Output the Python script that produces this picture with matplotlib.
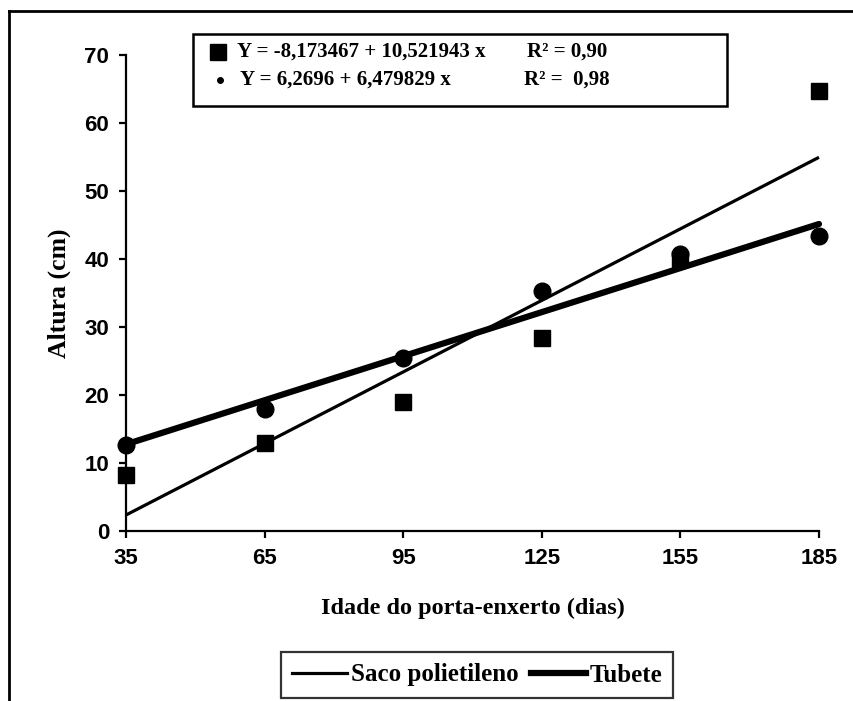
import matplotlib
matplotlib.use("Agg")
import matplotlib.pyplot as plt
from matplotlib.lines import Line2D
from matplotlib.patches import Rectangle
import numpy as np

# idade do porta-enxerto (dias)
dias = [35, 65, 95, 125, 155, 185]
# altura (cm) observada
saco = [8.3, 13.0, 18.9, 28.4, 40.0, 64.7]
tubete = [12.7, 17.9, 25.4, 35.3, 40.7, 43.4]

# coeficientes das regressoes (x = ordem da avaliacao 1..6)
coef_saco = (-8.173467, 10.521943)
coef_tubete = (6.2696, 6.479829)

serif = "Liberation Serif"
sans = "Liberation Sans"

fig = plt.figure(figsize=(8.54, 7.01), dpi=100)
ax = fig.add_axes([0.1475, 0.2425, 0.959 - 0.1475, 0.9215 - 0.2425])

ordem = np.arange(1, len(dias) + 1)
fit_saco = coef_saco[0] + coef_saco[1] * ordem
fit_tubete = coef_tubete[0] + coef_tubete[1] * ordem

ax.plot(dias, fit_saco, color="black", lw=2.3, solid_capstyle="butt", clip_on=False)
ax.plot(dias, fit_tubete, color="black", lw=4.5, solid_capstyle="round", clip_on=False)
ax.plot(dias, saco, "s", color="black", ms=11.5, clip_on=False, zorder=5)
ax.plot(dias, tubete, "o", color="black", ms=12, clip_on=False, zorder=5)

ax.set_xlim(35, 185)
ax.set_ylim(0, 70)
ax.set_xticks(dias)
ax.set_yticks(range(0, 71, 10))
for s in ["top", "right"]:
    ax.spines[s].set_visible(False)
for s in ["left", "bottom"]:
    ax.spines[s].set_linewidth(1.6)
ax.tick_params(direction="out", length=5, width=1.6, pad=7)
for lab in ax.get_xticklabels() + ax.get_yticklabels():
    lab.set_fontfamily(sans)
    lab.set_fontweight("bold")
    lab.set_fontsize(16)

ax.set_xlabel("Idade do porta-enxerto (dias)", fontfamily=serif, fontsize=17.5,
              fontweight="bold", labelpad=21)
ax.set_ylabel("Altura (cm)", fontfamily=serif, fontsize=18.5, fontweight="bold",
              labelpad=10)

# caixa com as equacoes
fig.add_artist(Rectangle((0.226, 0.849), 0.625, 0.1025, transform=fig.transFigure,
                         fill=False, lw=1.8, ec="black"))
fig.add_artist(Line2D([0.255], [1 - 52 / 701], marker="s", ms=11, color="black",
                      transform=fig.transFigure))
fig.add_artist(Line2D([0.258], [1 - 80 / 701], marker="o", ms=4, color="black",
                      transform=fig.transFigure))
eq = dict(fontfamily=serif, fontsize=15, fontweight="bold", va="center")
fig.text(237 / 854, 1 - 52 / 701, "Y = -8,173467 + 10,521943 x", **eq)
fig.text(527 / 854, 1 - 52 / 701, "R² = 0,90", **eq)
fig.text(240 / 854, 1 - 80 / 701, "Y = 6,2696 + 6,479829 x", **eq)
fig.text(524 / 854, 1 - 80 / 701, "R² =  0,98", **eq)

# legenda das linhas
handles = [Line2D([], [], color="black", lw=2.3),
           Line2D([], [], color="black", lw=4.5)]
leg = fig.legend(handles, ["Saco polietileno", "Tubete"], loc="center",
                 bbox_to_anchor=(477 / 854, 1 - 675 / 701), ncol=2, frameon=True,
                 fancybox=False, edgecolor="black", handlelength=2.2,
                 handletextpad=0.15, columnspacing=0.5, borderpad=0.45,
                 borderaxespad=0, prop={"family": serif, "size": 18, "weight": "bold"})
leg.get_frame().set_linewidth(1.6)

# moldura externa
fig.add_artist(Line2D([9 / 854, 9 / 854], [0, 1 - 11 / 701], color="black", lw=2,
                      transform=fig.transFigure))
fig.add_artist(Line2D([9 / 854, 1], [1 - 11 / 701, 1 - 11 / 701], color="black", lw=2,
                      transform=fig.transFigure))

fig.savefig("out.png", dpi=100)
